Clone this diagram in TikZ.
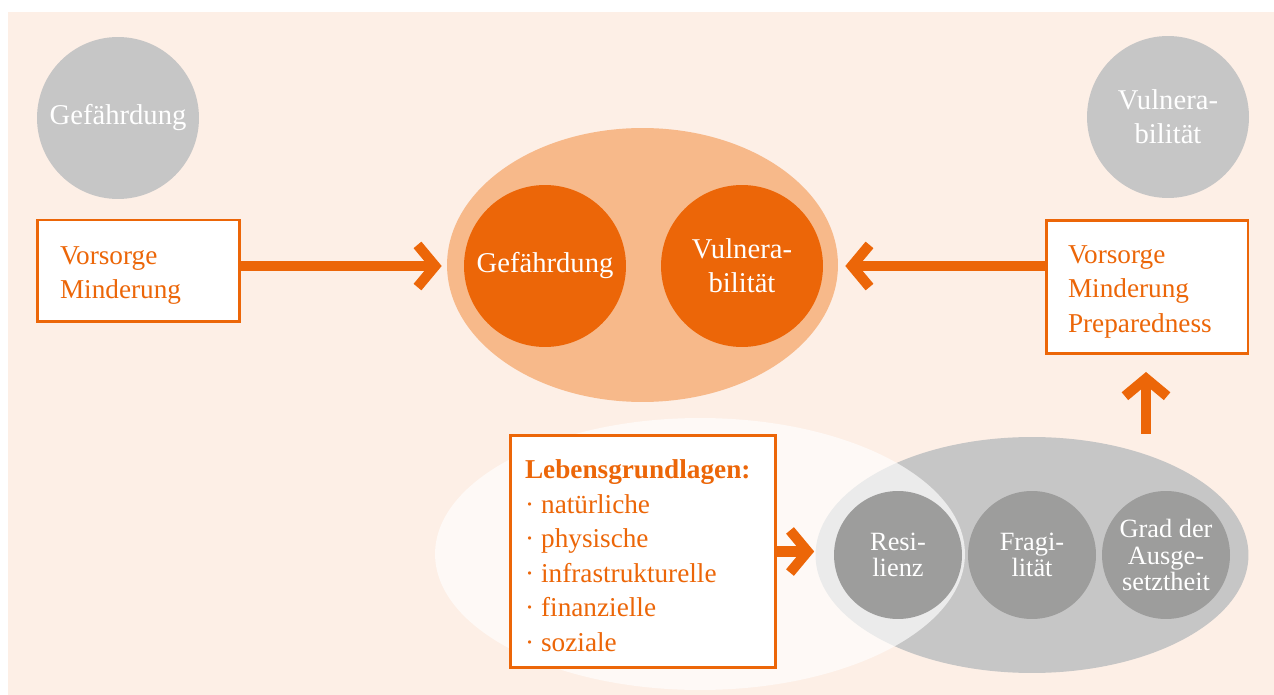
\documentclass[tikz,border=0pt]{standalone}
\usepackage{fontspec}
\setmainfont{Liberation Serif}
\usetikzlibrary{shapes.geometric,arrows.meta}
\definecolor{bgbeige}{HTML}{FDEFE6}
\definecolor{riskorange}{HTML}{EC6608}
\definecolor{riskpeach}{HTML}{F7B98A}
\definecolor{lightgrey}{HTML}{C6C6C6}
\definecolor{darkgrey}{HTML}{9D9D9C}
\newcommand{\topstrut}{\rule{0pt}{1em}}
\newcommand{\listdot}{·\kern0.26em}

\begin{document}
\begin{tikzpicture}[x=0.02cm,y=-0.02cm,>=latex]
\tikzset{
  bigcircle/.style={circle,minimum size=3.24cm,inner sep=0pt,text=white,align=center,font=\fontsize{16.3pt}{19.5pt}\selectfont},
  smallcircle/.style={circle,fill=darkgrey,minimum size=2.56cm,inner sep=0pt,text=white,align=center,font=\fontsize{15pt}{15pt}\selectfont},
  zone/.style={ellipse,inner sep=0pt},
  measure/.style={draw=riskorange,line width=1.7pt,fill=white,text=riskorange,align=left,font=\fontsize{15.5pt}{19.7pt}\selectfont},
  thickarrow/.style={draw=riskorange,line width=5.8pt,-{Straight Barb[length=10pt,width=24pt]}}
}
\useasboundingbox (0,0) rectangle (1274,695);
\fill[bgbeige] (8,12) rectangle (1274,695);

% oben: Gefaehrdung und Vulnerabilitaet
\node[bigcircle,fill=lightgrey] (hazard) at (118,118) {Gefährdung};
\node[bigcircle,fill=lightgrey] (vuln) at (1168,117) {Vulnera-\\bilität};
\node[zone,fill=riskpeach,minimum width=7.82cm,minimum height=5.48cm] (risk) at (642.5,265) {};
\node[bigcircle,fill=riskorange] (riskhazard) at (545,266) {Gefährdung};
\node[bigcircle,fill=riskorange] (riskvuln) at (742,266) {Vulnera-\\bilität};

\node[measure,text width=3.14cm,inner xsep=0.46cm,minimum height=2.04cm] (leftbox) at (138.5,271) {\topstrut Vorsorge\\Minderung};
\node[measure,text width=3.16cm,inner xsep=0.44cm,minimum height=2.68cm] (rightbox) at (1147,287) {\topstrut Vorsorge\\Minderung\\Preparedness};

% unten: Lebensgrundlagen
\node[zone,fill=lightgrey,minimum width=8.66cm,minimum height=4.72cm] (exposure) at (1032,555) {};
\node[zone,fill=white,fill opacity=0.65,minimum width=10.6cm,minimum height=5.44cm] (livelihood) at (700,554) {};
\node[smallcircle] (resilience) at (898,555) {Resi-\\lienz};
\node[smallcircle] (fragility) at (1032,555) {Fragi-\\lität};
\node[smallcircle] (degree) at (1166,555) {Grad der\\Ausge-\\setztheit};
\node[measure,text width=4.72cm,inner xsep=0.3cm,minimum height=4.66cm] (basics) at (643,551.5)
  {\topstrut\textbf{Lebensgrundlagen:}\\\listdot natürliche\\\listdot physische\\\listdot infrastrukturelle\\\listdot finanzielle\\\listdot soziale};

\coordinate (uptail) at (1146,434);
\coordinate (uptip) at (1146,372);
\draw[thickarrow] (leftbox.east |- riskhazard) -- ([xshift=-0.1cm]risk.west |- riskhazard);
\draw[thickarrow] (rightbox.west |- riskvuln) -- ([xshift=0.14cm]risk.east |- riskvuln);
\draw[thickarrow] (uptail) -- (uptip);
\draw[thickarrow] (basics.east) -- ([xshift=-0.02cm]exposure.west |- basics.east);
\end{tikzpicture}
\end{document}
